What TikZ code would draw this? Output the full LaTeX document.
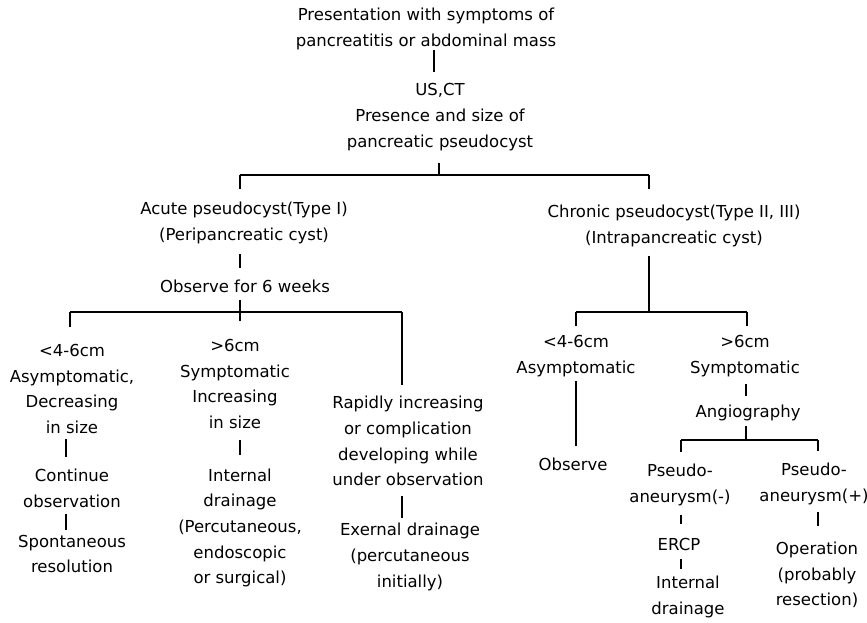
\documentclass[tikz,border=0pt]{standalone}
\usepackage{fontspec}
\setmainfont{DejaVu Sans}
\usepackage{tikz}
\newcommand\diagfont{\fontsize{16.5}{25.7}\selectfont}

\begin{document}
\begin{tikzpicture}[
  x=1pt,y=-1pt,
  lbl/.style={align=center,inner sep=0pt,font=\diagfont},
  link/.style={line width=1.3pt,draw=black}
]
\useasboundingbox (0,0) rectangle (867,622);

% Top of the tree
\node[lbl] (pres) at (426,29) {Presentation with symptoms of\\pancreatitis or abdominal mass};
\node[lbl] (usct) at (440,117) {US,CT\\Presence and size of\\pancreatic pseudocyst};

% Acute branch
\node[lbl] (acute) at (244,223) {Acute pseudocyst(Type I)\\(Peripancreatic cyst)};
\node[lbl] (obs6) at (245,286) {Observe for 6 weeks};
\node[lbl] (small1) at (72,389) {<4-6cm\\Asymptomatic,\\Decreasing\\in size};
\node[lbl] (cont) at (72,488) {Continue\\observation};
\node[lbl] (spont) at (72,554) {Spontaneous\\resolution};
\node[lbl] (large1) at (235,384) {>6cm\\Symptomatic\\Increasing\\in size};
\node[lbl] (intdr1) at (240,528) {Internal\\drainage\\(Percutaneous,\\endoscopic\\or surgical)};
\node[lbl] (rapid) at (408,441) {Rapidly increasing\\or complication\\developing while\\under observation};
\node[lbl] (exdr) at (410,557) {Exernal drainage\\(percutaneous\\initially)};

% Chronic branch
\node[lbl] (chron) at (674,226) {Chronic pseudocyst(Type II, III)\\(Intrapancreatic cyst)};
\node[lbl] (asym) at (576,356) {<4-6cm\\Asymptomatic};
\node[lbl] (observe) at (573,464) {Observe};
\node[lbl] (symp) at (745,356) {>6cm\\Symptomatic};
\node[lbl] (angio) at (748,413) {Angiography};
\node[lbl] (pneg) at (680,485) {Pseudo-\\aneurysm(-)};
\node[lbl] (ercp) at (679,544) {ERCP};
\node[lbl] (intdr2) at (688,597) {Internal\\drainage};
\node[lbl] (ppos) at (814,484) {Pseudo-\\aneurysm(+)};
\node[lbl] (oper) at (817,575) {Operation\\(probably\\resection)};

% junctions
\coordinate (j0) at (434,72);
\coordinate (j1) at (439,175);
\coordinate (j1l) at (240,175);
\coordinate (j1r) at (649,175);
\coordinate (j2) at (240,312);
\coordinate (j2l) at (70,312);
\coordinate (j2r) at (402,312);
\coordinate (j3) at (649,312);
\coordinate (j3l) at (576,312);
\coordinate (j3r) at (747,312);
\coordinate (j4) at (746,440);
\coordinate (j4l) at (681,440);
\coordinate (j4r) at (818,440);
\coordinate (c1) at (66,0);

\draw[link] (j0 |- pres.south) -- (j0);
\draw[link,shorten <=12pt] (j1 |- usct.south) -- (j1);
\draw[link] (j1l) -- (j1r);
\draw[link,shorten >=12.5pt] (j1l) -- (j1l |- acute.north);
\draw[link,shorten >=16pt] (j1r) -- (j1r |- chron.north);

% acute side
\draw[link,shorten <=10pt,shorten >=11.5pt] (j1l |- acute.south) -- (j1l |- obs6.north);
\draw[link,shorten <=7pt,shorten >=17.7pt] (j2 |- obs6.south) -- (j2 |- large1.north);
\draw[link] (j2l) -- (j2r);
\draw[link,shorten >=17pt] (j2l) -- (j2l |- small1.north);
\draw[link,shorten >=11pt] (j2r) -- (j2r |- rapid.north);
\draw[link,shorten <=5.3pt,shorten >=11.5pt] (c1 |- small1.south) -- (c1 |- cont.north);
\draw[link,shorten <=6.3pt,shorten >=5.2pt] (c1 |- cont.south) -- (c1 |- spont.north);
\draw[link,shorten <=11.3pt,shorten >=13.2pt] (j2 |- large1.south) -- (j2 |- intdr1.north);
\draw[link,shorten <=10pt,shorten >=5pt] (j2r |- rapid.south) -- (j2r |- exdr.north);

% chronic side
\draw[link,shorten <=8.6pt] (j3 |- chron.south) -- (j3);
\draw[link] (j3l) -- (j3r);
\draw[link,shorten >=9.3pt] (j3l) -- (j3l |- asym.north);
\draw[link,shorten >=9.3pt] (j3r) -- (j3r |- symp.north);
\draw[link,shorten <=4.3pt,shorten >=11.5pt] (j3l |- asym.south) -- (j3l |- observe.north);
\draw[link,shorten <=7.3pt,shorten >=9pt] (j4 |- symp.south) -- (j4 |- angio.north);
\draw[link,shorten <=5.3pt] (j4 |- angio.south) -- (j4);
\draw[link] (j4l) -- (j4r);
\draw[link,shorten >=12pt] (j4l) -- (j4l |- pneg.north);
\draw[link,shorten >=12pt] (j4r) -- (j4r |- ppos.north);
\draw[link,shorten <=9pt,shorten >=13.3pt] (j4l |- pneg.south) -- (j4l |- ercp.north);
\draw[link,shorten <=8.7pt,shorten >=6.5pt] (j4l |- ercp.south) -- (j4l |- intdr2.north);
\draw[link,shorten <=7pt,shorten >=15.8pt] (j4r |- ppos.south) -- (j4r |- oper.north);
\end{tikzpicture}
\end{document}
